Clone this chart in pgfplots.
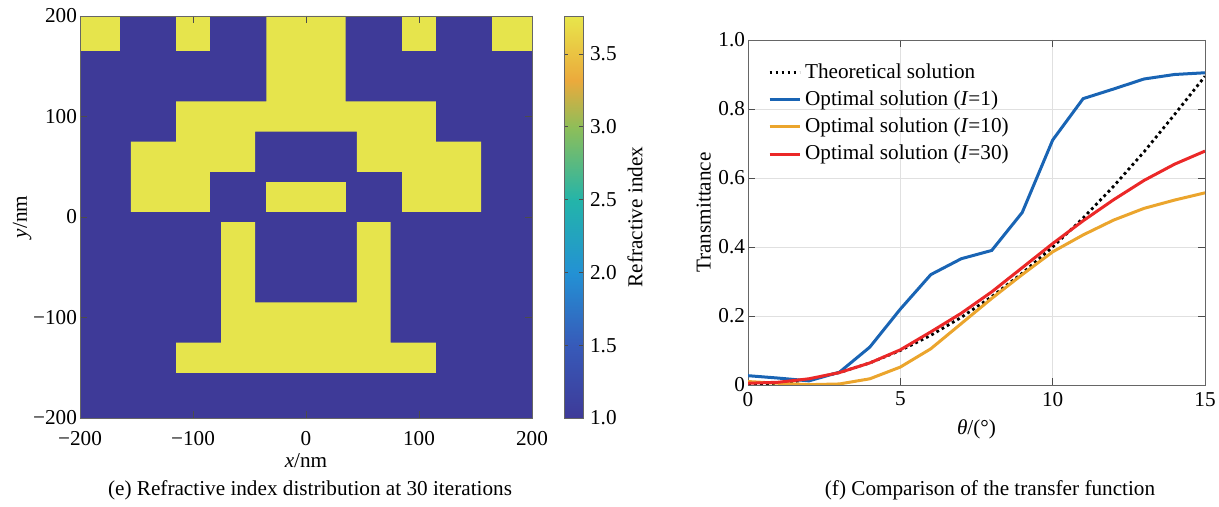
\documentclass[border=0pt]{standalone}
\usepackage{fontspec}
\setmainfont{Liberation Serif}
\usepackage{pgfplots}
\pgfplotsset{compat=1.18}

\definecolor{pblue}{RGB}{62,58,152}
\definecolor{pyel}{RGB}{230,228,76}
\definecolor{lblue}{RGB}{25,100,180}
\definecolor{lorange}{RGB}{235,165,45}
\definecolor{lred}{RGB}{235,40,40}

\pgfplotsset{
  every axis/.append style={
    /pgf/number format/assume math mode=true,
    tick align=inside,
    axis line style={black!60},
    tick style={black!70},
    major tick length=3.5pt,
  },
}

\begin{document}
\begin{tikzpicture}[font=\fontsize{10.6}{12.7}\selectfont]
\useasboundingbox (0,0) rectangle (609.5pt,253.5pt);

% (e) refractive index map
\begin{axis}[
  at={(40pt,44.5pt)}, anchor=south west,
  scale only axis, width=226pt, height=201pt,
  xmin=-200, xmax=200, ymin=-200, ymax=200,
  xtick={-200,-100,0,100,200}, xticklabels={−200,−100,0,100,200},
  ytick={-200,-100,0,100,200}, yticklabels={−200,−100,0,100,200},
  yticklabel style={xshift=2pt},
  xticklabel style={yshift=-3pt},
  xlabel={\textit{x}/nm}, ylabel={\textit{y}/nm},
  xlabel style={yshift=3pt}, ylabel style={yshift=-6pt},
  axis on top,
  axis background/.style={fill=pblue},
  colormap={idx}{rgb255(0cm)=(62,58,152) rgb255(18cm)=(55,90,185)
    rgb255(36cm)=(35,145,212) rgb255(54cm)=(35,180,170)
    rgb255(72cm)=(140,190,90) rgb255(84cm)=(235,170,60)
    rgb255(100cm)=(232,230,75)},
  point meta min=1, point meta max=3.76,
  colorbar,
  colorbar style={
    at={(parent axis.north east)}, anchor=north west, xshift=7.5pt,
    width=9.5pt,
    ytick={1,1.5,2,2.5,3,3.5},
    yticklabels={1.0,1.5,2.0,2.5,3.0,3.5},
    ylabel={Refractive index},
    ylabel style={yshift=1.5pt},
    major tick length=2pt,
  },
]
% top row blocks
\addplot[fill=pyel, draw=none] coordinates {(-200,165) (-165,165) (-165,200) (-200,200)};
\addplot[fill=pyel, draw=none] coordinates {(-115,165) (-85,165) (-85,200) (-115,200)};
\addplot[fill=pyel, draw=none] coordinates {(85,165) (115,165) (115,200) (85,200)};
\addplot[fill=pyel, draw=none] coordinates {(165,165) (200,165) (200,200) (165,200)};
% upper structure
\addplot[fill=pyel, draw=none] coordinates {
  (-35,200) (35,200) (35,115) (115,115) (115,75) (155,75) (155,5) (85,5)
  (85,45) (45,45) (45,85) (-45,85) (-45,45) (-85,45) (-85,5) (-155,5)
  (-155,75) (-115,75) (-115,115) (-35,115)};
% centre bar
\addplot[fill=pyel, draw=none] coordinates {(-35,5) (35,5) (35,35) (-35,35)};
% lower U shape
\addplot[fill=pyel, draw=none] coordinates {
  (-75,-5) (-45,-5) (-45,-85) (45,-85) (45,-5) (75,-5) (75,-125)
  (115,-125) (115,-155) (-115,-155) (-115,-125) (-75,-125)};
\end{axis}

% (f) transfer function
\begin{axis}[
  at={(374pt,61pt)}, anchor=south west,
  scale only axis, width=228.5pt, height=172.5pt,
  xmin=0, xmax=15, ymin=0, ymax=1,
  xtick={0,5,10,15},
  ytick={0,0.2,0.4,0.6,0.8,1}, yticklabels={0,0.2,0.4,0.6,0.8,1.0},
  yticklabel style={xshift=2pt},
  grid=major, grid style={black!12},
  xlabel={\textit{θ}/(°)}, ylabel={Transmittance},
  ylabel style={yshift=-3pt},
  legend style={draw=none, fill=none, at={(0.03,0.955)}, anchor=north west,
    row sep=0.7pt},
  legend cell align=left,
  legend image code/.code={\draw[#1] (0pt,0pt) -- (15pt,0pt);},
]
\addplot[black, line width=1.4pt, dash pattern=on 1.4pt off 1.6pt] coordinates {
  (0,0.000) (1,0.004) (2,0.016) (3,0.036) (4,0.064) (5,0.100) (6,0.144)
  (7,0.196) (8,0.256) (9,0.324) (10,0.400) (11,0.484) (12,0.576)
  (13,0.676) (14,0.784) (15,0.895)};
\addlegendentry{Theoretical solution}
\addplot[lblue, line width=1.5pt] coordinates {
  (0,0.027) (1,0.020) (2,0.012) (3,0.037) (4,0.110) (5,0.220) (6,0.320)
  (7,0.366) (8,0.390) (9,0.500) (10,0.710) (11,0.830) (12,0.858)
  (13,0.887) (14,0.900) (15,0.905)};
\addlegendentry{Optimal solution (\textit{I}=1)}
\addplot[lorange, line width=1.5pt] coordinates {
  (0,0.010) (1,0.005) (2,0.001) (3,0.003) (4,0.018) (5,0.052) (6,0.105)
  (7,0.178) (8,0.251) (9,0.320) (10,0.386) (11,0.435) (12,0.478)
  (13,0.512) (14,0.536) (15,0.557)};
\addlegendentry{Optimal solution (\textit{I}=10)}
\addplot[lred, line width=1.5pt] coordinates {
  (0,0.005) (1,0.008) (2,0.018) (3,0.036) (4,0.064) (5,0.102) (6,0.154)
  (7,0.208) (8,0.270) (9,0.340) (10,0.410) (11,0.476) (12,0.537)
  (13,0.593) (14,0.640) (15,0.678)};
\addlegendentry{Optimal solution (\textit{I}=30)}
\end{axis}

\node at (155pt,8.5pt) {(e) Refractive index distribution at 30 iterations};
\node at (495pt,8.5pt) {(f) Comparison of the transfer function};
\end{tikzpicture}
\end{document}
